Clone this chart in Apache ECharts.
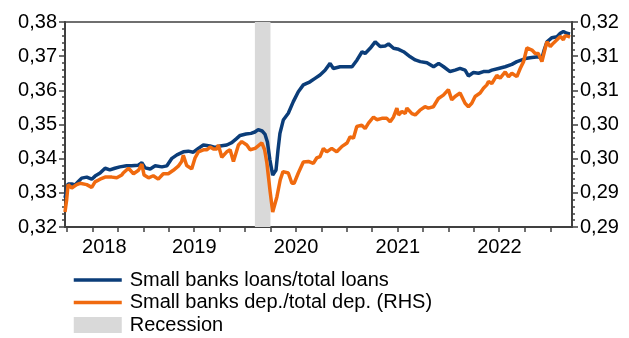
<!DOCTYPE html>
<html>
<head>
<meta charset="utf-8">
<script src="https://cdn.jsdelivr.net/npm/echarts@6/dist/echarts.min.js"></script>
<style>
  html, body { margin: 0; padding: 0; background: #fff; }
  #chart { width: 629px; height: 338px; }
</style>
</head>
<body>
<div id="chart"></div>
<script>
// small banks loans / total loans (left axis)
var loanDates = ['2018-03-25','2018-03-31','2018-04-05','2018-04-18','2018-04-30','2018-05-12','2018-05-24','2018-06-11','2018-06-29','2018-07-11','2018-07-29','2018-08-16','2018-09-02','2018-09-20','2018-10-08','2018-11-01','2018-11-19','2018-12-13','2018-12-26',
  '2019-01-07','2019-01-25','2019-02-12','2019-03-08','2019-03-26','2019-04-13','2019-05-01','2019-05-24','2019-06-11','2019-06-29','2019-07-17','2019-08-04','2019-08-28','2019-09-15','2019-10-03','2019-10-27','2019-11-14','2019-11-30','2019-12-14',
  '2020-01-04','2020-01-22','2020-02-05','2020-02-17','2020-03-02','2020-03-12','2020-03-21','2020-03-30','2020-04-09','2020-04-21','2020-04-28','2020-05-05','2020-05-17','2020-06-04','2020-06-22','2020-07-10','2020-07-28','2020-08-21','2020-09-08','2020-09-26','2020-10-14','2020-11-01','2020-11-13','2020-12-07',
  '2021-01-01','2021-01-19','2021-02-06','2021-02-24','2021-03-07','2021-03-25','2021-04-12','2021-04-30','2021-05-18','2021-05-30','2021-06-17','2021-07-05','2021-07-23','2021-07-29','2021-08-16','2021-09-03','2021-09-21','2021-10-15','2021-11-08','2021-11-26','2021-12-14',
  '2022-01-06','2022-01-24','2022-02-11','2022-03-01','2022-03-13','2022-03-31','2022-04-18','2022-05-06','2022-05-24','2022-06-05','2022-06-29','2022-07-23','2022-08-16','2022-09-03','2022-09-21','2022-10-09','2022-10-27','2022-11-19','2022-12-02','2022-12-10','2022-12-20',
  '2023-01-07','2023-01-25','2023-02-06','2023-02-17','2023-03-01','2023-03-13'];
var loanValues = [0.3285,0.3289,0.3326,0.3326,0.3323,0.3333,0.3343,0.3346,0.3340,0.3349,0.3358,0.3372,0.3367,0.3372,0.3376,0.3379,0.3379,0.3381,0.3388,
  0.3373,0.3370,0.3379,0.3376,0.3379,0.3401,0.3411,0.3420,0.3422,0.3419,0.3430,0.3440,0.3437,0.3433,0.3437,0.3440,0.3447,0.3458,0.3468,
  0.3472,0.3474,0.3478,0.3485,0.3481,0.3472,0.3449,0.3396,0.3352,0.3367,0.3425,0.3474,0.3513,0.3533,0.3567,0.3596,0.3616,0.3625,0.3635,0.3645,0.3659,0.3679,0.3664,0.3669,
  0.3669,0.3669,0.3689,0.3713,0.3708,0.3723,0.3742,0.3728,0.3730,0.3736,0.3723,0.3720,0.3713,0.3708,0.3698,0.3689,0.3684,0.3681,0.3669,0.3679,0.3669,
  0.3655,0.3659,0.3664,0.3659,0.3642,0.3652,0.3650,0.3655,0.3655,0.3659,0.3664,0.3669,0.3676,0.3684,0.3689,0.3694,0.3696,0.3698,0.3694,0.3718,0.3742,
  0.3754,0.3757,0.3767,0.3772,0.3767,0.3765];

// small banks deposits / total deposits (right axis)
var depDates = ['2018-03-25','2018-03-31','2018-04-05','2018-04-18','2018-04-24','2018-05-06','2018-05-18','2018-05-24','2018-06-11','2018-06-29','2018-07-11','2018-07-29','2018-08-16','2018-09-09','2018-09-27','2018-10-15','2018-10-20','2018-11-08','2018-11-14','2018-11-26','2018-12-14','2018-12-26',
  '2019-01-03','2019-01-19','2019-02-05','2019-02-23','2019-03-13','2019-03-31','2019-04-18','2019-05-06','2019-05-18','2019-05-24','2019-06-05','2019-06-23','2019-07-05','2019-07-17','2019-08-04','2019-08-16','2019-08-28','2019-09-09','2019-09-21','2019-09-27','2019-10-09','2019-10-27','2019-11-08','2019-11-20','2019-12-08','2019-12-20',
  '2020-01-07','2020-01-19','2020-02-06','2020-03-01','2020-03-07','2020-03-11','2020-03-19','2020-03-31','2020-04-09','2020-04-24','2020-05-06','2020-05-16','2020-05-23','2020-06-04','2020-06-17','2020-06-25','2020-07-10','2020-07-28','2020-08-15','2020-09-02','2020-09-14','2020-09-26','2020-10-08','2020-10-20','2020-11-07','2020-11-25','2020-12-14',
  '2021-01-01','2021-01-12','2021-01-24','2021-02-05','2021-02-23','2021-03-07','2021-03-19','2021-04-06','2021-04-18','2021-05-06','2021-05-24','2021-06-05','2021-06-17','2021-06-29','2021-07-05','2021-07-17','2021-07-29','2021-08-04','2021-08-22','2021-09-03','2021-09-20','2021-10-08','2021-10-20','2021-11-07','2021-11-25','2021-12-13','2021-12-31',
  '2022-01-12','2022-01-24','2022-02-11','2022-03-01','2022-03-13','2022-03-25','2022-04-06','2022-04-24','2022-05-06','2022-05-18','2022-05-24','2022-06-05','2022-06-23','2022-07-05','2022-07-23','2022-08-04','2022-08-16','2022-09-03','2022-09-15','2022-09-27','2022-10-09','2022-10-27','2022-11-08','2022-11-19','2022-12-02','2022-12-14','2022-12-20',
  '2023-01-01','2023-01-12','2023-01-25','2023-02-06','2023-02-17','2023-02-23','2023-03-07','2023-03-13'];
var depValues = [0.2922,0.2940,0.2962,0.2957,0.2957,0.2962,0.2964,0.2966,0.2962,0.2958,0.2966,0.2970,0.2973,0.2973,0.2972,0.2976,0.2979,0.2986,0.2988,0.2978,0.2983,0.2992,
  0.2976,0.2972,0.2975,0.2970,0.2978,0.2978,0.2983,0.2989,0.2996,0.3005,0.2990,0.2985,0.3001,0.3010,0.3013,0.3013,0.3017,0.3014,0.3014,0.3020,0.3002,0.3010,0.3013,0.2996,0.3020,0.3025,
  0.3020,0.3013,0.3015,0.3023,0.3024,0.3013,0.2994,0.2951,0.2922,0.2944,0.2969,0.2981,0.2981,0.2979,0.2964,0.2964,0.2979,0.2995,0.2996,0.2993,0.3001,0.3003,0.3015,0.3010,0.3015,0.3010,0.3018,
  0.3023,0.3032,0.3030,0.3047,0.3049,0.3044,0.3052,0.3061,0.3057,0.3059,0.3059,0.3054,0.3061,0.3074,0.3064,0.3069,0.3066,0.3074,0.3066,0.3064,0.3071,0.3076,0.3074,0.3076,0.3088,0.3093,0.3101,
  0.3086,0.3091,0.3096,0.3081,0.3076,0.3081,0.3091,0.3096,0.3103,0.3108,0.3113,0.3110,0.3122,0.3118,0.3127,0.3120,0.3125,0.3120,0.3132,0.3142,0.3162,0.3159,0.3154,0.3154,0.3142,0.3162,0.3171,
  0.3164,0.3169,0.3174,0.3179,0.3174,0.3180,0.3179,0.3178];

var recession = ['2020-02-05', '2020-04-01'];
var xRange = ['2018-03-25', '2023-03-20'];
var yearLabels = ['2018', '2019', '2020', '2021', '2022'];
var leftTicks = ['0,32', '0,33', '0,34', '0,35', '0,36', '0,37', '0,38'];
var rightTicks = ['0,29', '0,29', '0,30', '0,30', '0,31', '0,31', '0,32'];

function ts(s) { return +new Date(s + 'T00:00:00'); }

// quarterly ticks on the date axis
var quarterTicks = [];
for (var y = 2018; y <= 2023; y++) {
  ['01', '04', '07', '10'].forEach(function (m) {
    var t = ts(y + '-' + m + '-01');
    if (t >= ts(xRange[0]) && t <= ts(xRange[1])) quarterTicks.push(t);
  });
}
// year labels centred on the visible part of each year
var labelPos = yearLabels.map(function (yr) {
  var a = Math.max(ts(yr + '-01-01'), ts(xRange[0]));
  var b = Math.min(ts((+yr + 1) + '-01-01'), ts(xRange[1]));
  return Math.round((a + b) / 2);
});

var axisColor = '#404040';
var font = 'Liberation Sans, Arial, sans-serif';
var noSymbol = { color: 'rgba(0,0,0,0)', opacity: 0 };

var chart = echarts.init(document.getElementById('chart'));
var option = {
  animation: false,
  textStyle: { fontFamily: font },
  grid: {
    left: 65, right: 57, top: 22, bottom: 111,
    show: true, borderColor: axisColor, borderWidth: 1.5,
    outerBoundsMode: 'none'
  },
  legend: {
    orient: 'vertical',
    left: 72,
    top: 269,
    height: 69,
    padding: 0,
    itemWidth: 48,
    itemHeight: 16,
    itemGap: 0.5,
    data: [
      { name: 'Small banks loans/total loans', itemStyle: noSymbol },
      { name: 'Small banks dep./total dep. (RHS)', itemStyle: noSymbol },
      { name: 'Recession', icon: 'rect' }
    ],
    lineStyle: { width: 3.5 },
    textStyle: { fontSize: 20, color: '#000', fontFamily: font, lineHeight: 22, padding: [0, 0, 0, 3] }
  },
  xAxis: {
    type: 'value',
    min: ts(xRange[0]),
    max: ts(xRange[1]),
    splitLine: { show: false },
    axisLine: { lineStyle: { color: axisColor, width: 2 } },
    axisTick: { show: true, length: 5, customValues: quarterTicks, lineStyle: { color: axisColor, width: 1.5 } },
    axisLabel: {
      customValues: labelPos,
      margin: 10,
      fontSize: 20,
      color: '#000',
      fontFamily: font,
      formatter: function (v) { return String(new Date(v).getFullYear()); }
    }
  },
  yAxis: [
    {
      type: 'value',
      position: 'left',
      min: 0.32, max: 0.38, interval: 0.01,
      splitLine: { show: false },
      axisLine: { show: true, lineStyle: { color: axisColor, width: 2 } },
      axisTick: { show: true, length: 6, lineStyle: { color: axisColor, width: 1.5 } },
      minorTick: { show: true, splitNumber: 5, length: 3, lineStyle: { color: axisColor, width: 1.5 } },
      axisLabel: {
        margin: 8, fontSize: 20, color: '#000', fontFamily: font,
        formatter: function (v, i) { return leftTicks[i]; }
      }
    },
    {
      type: 'value',
      position: 'right',
      min: 0.29, max: 0.32, interval: 0.005,
      splitLine: { show: false },
      axisLine: { show: true, lineStyle: { color: axisColor, width: 2 } },
      axisTick: { show: true, length: 6, lineStyle: { color: axisColor, width: 1.5 } },
      minorTick: { show: true, splitNumber: 5, length: 3, lineStyle: { color: axisColor, width: 1.5 } },
      axisLabel: {
        margin: 8, fontSize: 20, color: '#000', fontFamily: font,
        formatter: function (v, i) { return rightTicks[i]; }
      }
    }
  ],
  series: [
    {
      name: 'Recession',
      type: 'line',
      data: [],
      color: '#D9D9D9',
      itemStyle: { color: '#D9D9D9' },
      markArea: {
        silent: true,
        itemStyle: { color: '#D9D9D9', opacity: 1 },
        data: [[{ xAxis: ts(recession[0]) }, { xAxis: ts(recession[1]) }]]
      }
    },
    {
      name: 'Small banks loans/total loans',
      type: 'line',
      yAxisIndex: 0,
      symbol: 'none',
      color: '#0B3D79',
      lineStyle: { width: 3.5, color: '#0B3D79' },
      data: loanDates.map(function (d, i) { return [ts(d), loanValues[i]]; })
    },
    {
      name: 'Small banks dep./total dep. (RHS)',
      type: 'line',
      yAxisIndex: 1,
      symbol: 'none',
      color: '#F06A0F',
      lineStyle: { width: 3.5, color: '#F06A0F' },
      data: depDates.map(function (d, i) { return [ts(d), depValues[i]]; })
    }
  ]
};
chart.setOption(option);
window.addEventListener('resize', function () { chart.resize(); });
</script>
</body>
</html>
